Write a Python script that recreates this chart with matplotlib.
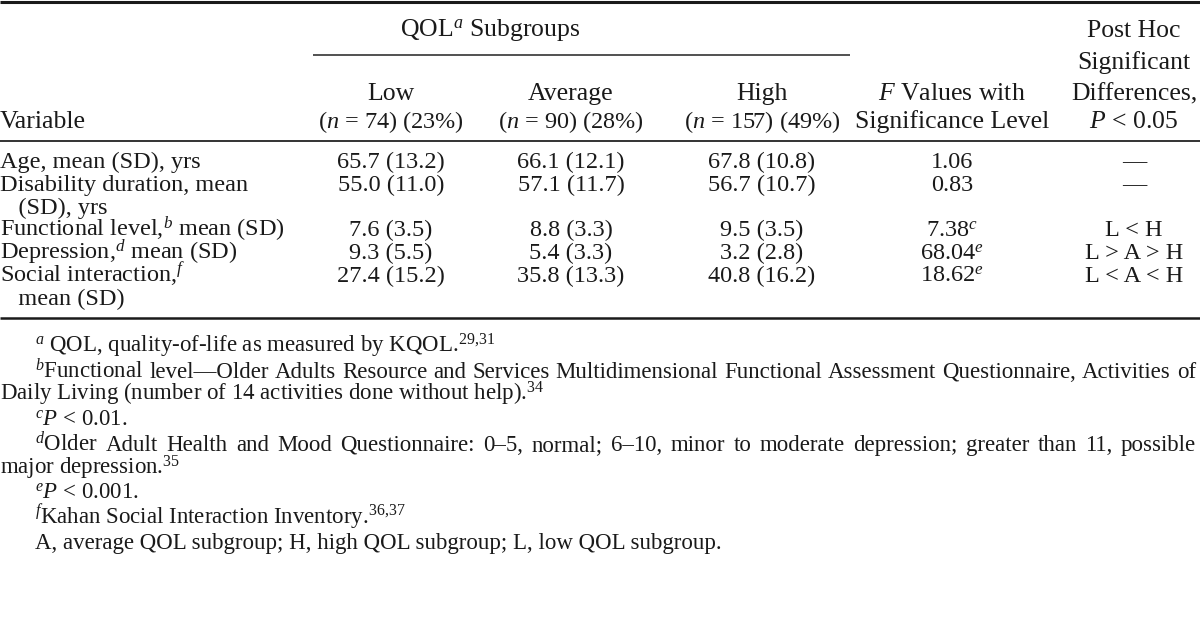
import matplotlib
matplotlib.use('Agg')
import matplotlib.pyplot as plt

plt.rcParams['font.family'] = 'Liberation Serif'
plt.rcParams['mathtext.fontset'] = 'custom'
plt.rcParams['mathtext.rm'] = 'Liberation Serif'
plt.rcParams['mathtext.it'] = 'Liberation Serif:italic'
plt.rcParams['mathtext.bf'] = 'Liberation Serif:bold'

# table data
variables = [
    ["Age, mean (SD), yrs"],
    ["Disability duration, mean", "   (SD), yrs"],
    ["Functional level,$^{b}$ mean (SD)"],
    ["Depression,$^{d}$ mean (SD)"],
    ["Social interaction,$^{f}$", "   mean (SD)"],
]
groups = ["Low", "Average", "High"]
group_n = [74, 90, 157]
group_pct = [23, 28, 49]
low_mean = [65.7, 55.0, 7.6, 9.3, 27.4]
low_sd = [13.2, 11.0, 3.5, 5.5, 15.2]
avg_mean = [66.1, 57.1, 8.8, 5.4, 35.8]
avg_sd = [12.1, 11.7, 3.3, 3.3, 13.3]
high_mean = [67.8, 56.7, 9.5, 3.2, 40.8]
high_sd = [10.8, 10.7, 3.5, 2.8, 16.2]
f_values = [1.06, 0.83, 7.38, 68.04, 18.62]
f_marks = ["", "", "c", "e", "e"]
post_hoc = ["\u2014", "\u2014", "L < H", "L > A > H", "L < A < H"]

footnotes = [
    ["$^{a}$ QOL, quality-of-life as measured by KQOL.$^{29{,}31}$"],
    ["$^{b}$Functional level\u2014Older Adults Resource and Services Multidimensional Functional Assessment Questionnaire, Activities of",
     "Daily Living (number of 14 activities done without help).$^{34}$"],
    ["$^{c}P$ < 0.01."],
    ["$^{d}$Older Adult Health and Mood Questionnaire: 0\u20135, normal; 6\u201310, minor to moderate depression; greater than 11, possible",
     "major depression.$^{35}$"],
    ["$^{e}P$ < 0.001."],
    ["$^{f}$Kahan Social Interaction Inventory.$^{36{,}37}$"],
    ["A, average QOL subgroup; H, high QOL subgroup; L, low QOL subgroup."],
]

W, H = 1200, 638
fig = plt.figure(figsize=(W / 100, H / 100), dpi=100)
ax = fig.add_axes([0, 0, 1, 1])
ax.set_xlim(0, W)
ax.set_ylim(H, 0)
ax.axis('off')

fs = 17.5
fs_head = 18.5
fs_num = 17.5
fs_note = 16.5
ink = '#1a1a1a'
col_x = [391, 571, 762, 952, 1134]

def put(x, y, s, ha='center', size=fs):
    return ax.text(x, y, s, ha=ha, va='baseline', fontsize=size, color=ink)

# rules
ax.plot([0, W], [2, 2], color=ink, lw=2.2, solid_capstyle='butt')
ax.plot([313, 850], [55, 55], color='#333333', lw=1.2, solid_capstyle='butt')
ax.plot([0, W], [141, 141], color='#333333', lw=1.4, solid_capstyle='butt')
ax.plot([0, W], [318, 318], color=ink, lw=1.8, solid_capstyle='butt')

# header
put(490, 37, "QOL$^{a}$ Subgroups", size=fs_head)
for i, g in enumerate(groups):
    put(col_x[i], 100, g, size=fs_head)
    put(col_x[i], 128, "($n$ = %d) (%d%%)" % (group_n[i], group_pct[i]), size=fs_num)
put(0, 128, "Variable", ha='left', size=fs_head)
put(col_x[3], 100, "$F$ Values with", size=fs_head)
put(col_x[3], 128, "Significance Level", size=fs_head)
put(col_x[4], 37, "Post Hoc", size=fs_head)
put(col_x[4], 69, "Significant", size=fs_head)
put(col_x[4], 100, "Differences,", size=fs_head)
put(col_x[4], 128, "$P$ < 0.05", size=fs_head)

# body
y = 168
step = 22.8
for i, lines in enumerate(variables):
    for k, line in enumerate(lines):
        put(0, y + k * step, line, ha='left')
    put(col_x[0], y, "%.1f (%.1f)" % (low_mean[i], low_sd[i]), size=fs_num)
    put(col_x[1], y, "%.1f (%.1f)" % (avg_mean[i], avg_sd[i]), size=fs_num)
    put(col_x[2], y, "%.1f (%.1f)" % (high_mean[i], high_sd[i]), size=fs_num)
    fv = "%.2f" % f_values[i]
    if f_marks[i]:
        fv += "$^{%s}$" % f_marks[i]
    put(col_x[3], y, fv, size=fs_num)
    put(col_x[4], y, post_hoc[i], size=fs_num)
    y += step * len(lines)

# footnotes
renderer = fig.canvas.get_renderer()

def justify(x0, x1, yy, s, size):
    words = s.split(' ')
    ts = [ax.text(0, yy, w, ha='left', va='baseline', fontsize=size, color=ink) for w in words]
    widths = [t.get_window_extent(renderer).width for t in ts]
    gap = (x1 - x0 - sum(widths)) / (len(words) - 1)
    x = x0
    for t, w in zip(ts, widths):
        t.set_x(x)
        x += w + gap

y = 353
for note in footnotes:
    for k, line in enumerate(note):
        if k == 0 and len(note) > 1:
            justify(35, 1196, y, line, fs_note)
        elif k == 0:
            put(35, y, line, ha='left', size=fs_note)
        else:
            put(0, y, line, ha='left', size=fs_note)
        y += 23 if k < len(note) - 1 else 0
    y += 25

fig.savefig('out.png', dpi=100)
